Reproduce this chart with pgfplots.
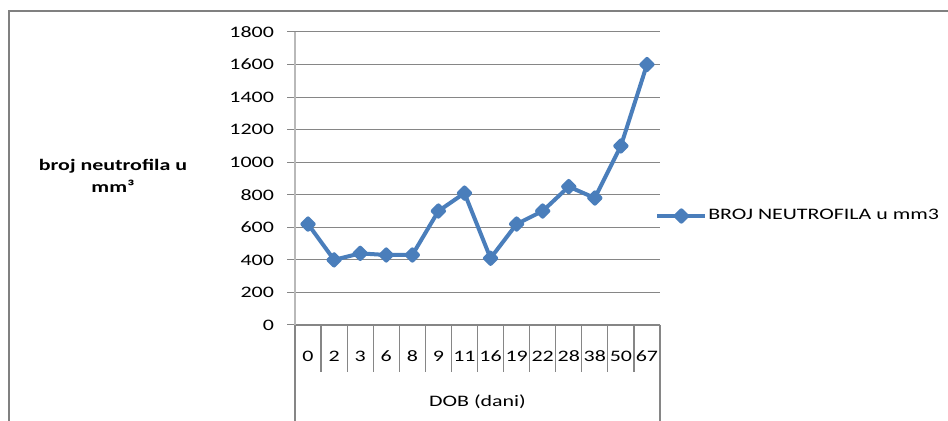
\documentclass[border=0pt]{standalone}
\usepackage{fontspec}
\setmainfont{Carlito}[FakeStretch=1.37]
\usepackage{pgfplots}
\pgfplotsset{compat=1.18}
\definecolor{serie}{RGB}{74,126,187}
\definecolor{grd}{RGB}{134,134,134}
\definecolor{yax}{RGB}{185,185,185}
\definecolor{frm}{RGB}{128,128,128}
\newcommand{\fs}{\fontsize{8}{10}\selectfont}

\begin{document}
\begin{tikzpicture}
\useasboundingbox (0,0) rectangle (474pt,210.5pt);
% outer chart frame (only top and left visible)
\draw[frm, line width=1pt] (4.5pt,0) -- (4.5pt,204.75pt) -- (474pt,204.75pt);
\node[align=center, font=\bfseries\fontsize{8}{11}\selectfont] at (56.5pt,122.5pt) {broj neutrofila u\\mm³};

\begin{axis}[
    at={(147.5pt,48pt)}, anchor=south west,
    scale only axis, width=182.5pt, height=146.5pt,
    xmin=-0.5, xmax=13.5, ymin=0, ymax=1800,
    ytick={0,200,...,1800},
    xtick={0,...,13},
    xticklabels={0,2,3,6,8,9,11,16,19,22,28,38,50,67},
    minor xtick={0.5,1.5,...,12.5},
    axis lines*=left,
    x axis line style={grd, line width=0.6pt},
    y axis line style={yax, line width=0.6pt},
    ymajorgrids, grid style={grd, line width=0.5pt},
    tick align=outside,
    major tick length=4pt, minor tick length=23.5pt,
    major x tick style={draw=none},
    minor x tick style={grd, line width=0.6pt},
    major y tick style={grd, line width=0.5pt},
    tick label style={font=\fs},
    /pgf/number format/assume math mode=true,
    /pgf/number format/1000 sep={},
    xticklabel style={anchor=center, yshift=-11.5pt},
    yticklabel style={xshift=-3pt},
    clip=false,
    legend style={at={(0.986,0.372)}, anchor=west, draw=none, fill=none,
        font=\fs, inner sep=0pt, nodes={inner sep=0.5pt}},
    legend image code/.code={\draw[mark repeat=2,mark phase=2,#1]
        plot coordinates {(0pt,0pt) (12pt,0pt) (24pt,0pt)};},
]
\addplot[serie, line width=2pt, line join=round, mark=square*, mark size=2pt,
    mark options={rotate=45, solid}] coordinates {
(0,620) (1,400) (2,440) (3,430) (4,430) (5,700) (6,810)
(7,410) (8,620) (9,700) (10,850) (11,780) (12,1100) (13,1600)
};
\addlegendentry{BROJ NEUTROFILA u mm3}
\draw[grd, line width=0.6pt] (rel axis cs:0,0) -- ++(0pt,-48pt);
\draw[grd, line width=0.6pt] (rel axis cs:1,0) -- ++(0pt,-48pt);
\node[font=\fs] at (rel axis cs:0.5,0) [yshift=-38.5pt] {DOB (dani)};
\end{axis}
\end{tikzpicture}
\end{document}
